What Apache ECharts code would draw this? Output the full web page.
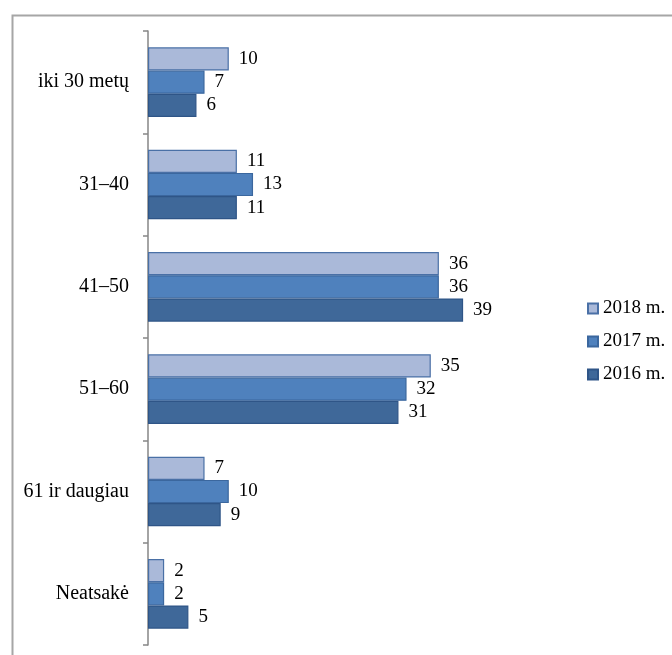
<!DOCTYPE html>
<html>
<head>
<meta charset="utf-8">
<script src="https://cdn.jsdelivr.net/npm/echarts@6/dist/echarts.min.js"></script>
<style>html,body{margin:0;padding:0;background:#fff;}#c{width:672px;height:655px;}</style>
</head>
<body>
<div id="c"></div>
<script>
var categories = ['iki 30 metų', '31–40', '41–50', '51–60', '61 ir daugiau', 'Neatsakė'];
var seriesNames = ['2018 m.', '2017 m.', '2016 m.'];
var values2018 = [10, 11, 36, 35, 7, 2];
var values2017 = [7, 13, 36, 32, 10, 2];
var values2016 = [6, 11, 39, 31, 9, 5];

var fills = ['#aab9d9', '#4f81bd', '#3f6899'];
var borders = ['#4a70a6', '#3b679e', '#2f5587'];
var allValues = [values2018, values2017, values2016];
var font = '"Liberation Serif", "Times New Roman", serif';

var chart = echarts.init(document.getElementById('c'));
chart.setOption({
  animation: false,
  backgroundColor: '#fff',
  graphic: [{
    type: 'rect',
    left: 10, top: 13,
    shape: { width: 700, height: 700 },
    style: { fill: 'none', stroke: '#a6a6a6', lineWidth: 2 },
    silent: true
  }],
  legend: {
    orient: 'vertical',
    left: 582,
    top: 294,
    itemWidth: 10,
    itemHeight: 10,
    itemGap: 14,
    icon: 'rect',
    data: seriesNames,
    textStyle: { fontFamily: font, fontSize: 19, color: '#000' }
  },
  grid: { left: 148, top: 31, width: 404, bottom: 10, containLabel: false },
  xAxis: {
    type: 'value', min: 0, max: 50, show: false,
    splitLine: { show: false }
  },
  yAxis: {
    type: 'category',
    inverse: true,
    data: categories,
    axisLine: { lineStyle: { color: '#868686', width: 1.5 } },
    axisTick: { show: true, length: 5, lineStyle: { color: '#868686', width: 1.5 } },
    axisLabel: { fontFamily: font, fontSize: 20, color: '#000', margin: 19 }
  },
  series: seriesNames.map(function (n, i) {
    return {
      name: n,
      type: 'bar',
      data: allValues[i],
      barGap: '0%',
      barCategoryGap: '32%',
      itemStyle: { color: fills[i], borderColor: borders[i], borderWidth: 1.2 },
      label: {
        show: true, position: 'right', distance: 10,
        fontFamily: font, fontSize: 19, color: '#000'
      }
    };
  })
});
</script>
</body>
</html>
